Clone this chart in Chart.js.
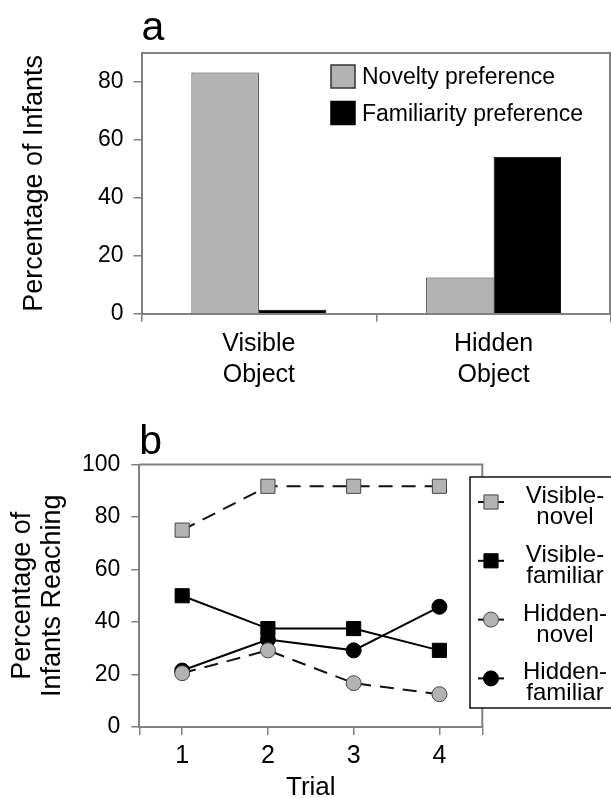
<!DOCTYPE html>
<html>
<head>
<meta charset="utf-8">
<script src="https://cdn.jsdelivr.net/npm/chart.js@4.4.1/dist/chart.umd.min.js"></script>
<style>
  html, body { margin: 0; padding: 0; background: #fff; }
  canvas { display: block; }
</style>
</head>
<body>
<canvas id="chartA" width="611" height="400"></canvas>
<canvas id="chartB" width="611" height="398"></canvas>
<script>
// panel a: share of infants showing each preference
const objectGroups = [['Visible', 'Object'], ['Hidden', 'Object']];
const noveltyPref = [83.3, 12.5];
const familiarityPref = [0, 54.2];
const prefNames = ['Novelty preference', 'Familiarity preference'];
const yTicksA = [0, 20, 40, 60, 80];

// panel b: reaching by trial
const trials = [1, 2, 3, 4];
const visibleNovel = [75, 91.7, 91.7, 91.7];
const visibleFamiliar = [50, 37.5, 37.5, 29.2];
const hiddenNovel = [20.5, 29.2, 16.7, 12.5];
const hiddenFamiliar = [21.5, 33.3, 29.2, 45.8];
const seriesNames = [['Visible-', 'novel'], ['Visible-', 'familiar'], ['Hidden-', 'novel'], ['Hidden-', 'familiar']];
const yTicksB = [0, 20, 40, 60, 80, 100];

const FONT = "'Liberation Sans', Arial, Helvetica, sans-serif";
const AXIS_GREY = '#808080';
Chart.defaults.font.family = FONT;
Chart.defaults.color = '#000';

// big "a" / "b" letter above the plot
const panelLetter = {
  id: 'panelLetter',
  afterDraw(chart, args, opts) {
    const ctx = chart.ctx, area = chart.chartArea;
    ctx.save();
    ctx.font = '41px ' + FONT;
    ctx.fillStyle = '#000';
    ctx.textBaseline = 'alphabetic';
    ctx.fillText(opts.text, area.left, area.top - opts.gap);
    ctx.restore();
  }
};

// top and right frame lines
const frame = {
  id: 'frame',
  beforeDatasetsDraw(chart, args, opts) {
    const ctx = chart.ctx, area = chart.chartArea;
    const r = Math.min(area.right, chart.width - 1);
    ctx.save();
    ctx.strokeStyle = AXIS_GREY;
    ctx.lineWidth = 2;
    ctx.beginPath();
    ctx.moveTo(area.left, area.top);
    ctx.lineTo(r, area.top);
    ctx.lineTo(r, area.bottom);
    ctx.stroke();
    ctx.restore();
  }
};

// legend with filled boxes (panel a)
const boxLegend = {
  id: 'boxLegend',
  afterDraw(chart, args, opts) {
    const ctx = chart.ctx;
    ctx.save();
    ctx.font = opts.fontSize + 'px ' + FONT;
    ctx.textBaseline = 'middle';
    chart.data.datasets.forEach((ds, i) => {
      const y = opts.top + i * opts.spacing;
      ctx.fillStyle = ds.backgroundColor;
      ctx.fillRect(opts.left, y, opts.box, opts.box - 1);
      ctx.strokeStyle = ds.borderColor;
      ctx.lineWidth = 1.5;
      ctx.strokeRect(opts.left, y, opts.box, opts.box - 1);
      ctx.fillStyle = '#000';
      ctx.fillText(ds.label, opts.left + opts.box + opts.gap, y + opts.box / 2 + 1);
    });
    ctx.restore();
  }
};

// legend with line + marker and two-line names (panel b)
const lineLegend = {
  id: 'lineLegend',
  afterDraw(chart, args, opts) {
    const ctx = chart.ctx;
    ctx.save();
    ctx.fillStyle = '#fff';
    ctx.fillRect(opts.left, opts.top, chart.width - opts.left + 5, opts.bottom - opts.top);
    ctx.strokeStyle = '#111';
    ctx.lineWidth = 1.5;
    ctx.strokeRect(opts.left, opts.top, chart.width - opts.left + 5, opts.bottom - opts.top);
    ctx.font = opts.fontSize + 'px ' + FONT;
    ctx.textAlign = 'center';
    ctx.textBaseline = 'alphabetic';
    chart.data.datasets.forEach((ds, i) => {
      const y = opts.first + i * opts.step;
      ctx.strokeStyle = ds.borderColor;
      ctx.lineWidth = ds.borderWidth;
      ctx.setLineDash([]);
      ctx.beginPath();
      ctx.moveTo(opts.lineX0, y);
      ctx.lineTo(opts.lineX1, y);
      ctx.stroke();
      ctx.fillStyle = ds.pointBackgroundColor;
      ctx.strokeStyle = ds.pointBorderColor;
      ctx.lineWidth = ds.pointBorderWidth;
      Chart.helpers.drawPoint(ctx, {
        pointStyle: ds.pointStyle, radius: ds.pointRadius, rotation: 0, borderWidth: ds.pointBorderWidth
      }, (opts.lineX0 + opts.lineX1) / 2, y);
      ctx.fillStyle = '#000';
      seriesNames[i].forEach((line, k) => {
        ctx.fillText(line, opts.textX, y + opts.baseShift + k * opts.lineGap);
      });
    });
    ctx.restore();
  }
};

new Chart(document.getElementById('chartA'), {
  type: 'bar',
  data: {
    labels: objectGroups,
    datasets: [
      { label: prefNames[0], data: noveltyPref, backgroundColor: '#b3b3b3', borderColor: '#333', borderWidth: 1 },
      { label: prefNames[1], data: familiarityPref, backgroundColor: '#000', borderColor: '#000', borderWidth: 1, minBarLength: 4 }
    ]
  },
  options: {
    responsive: false,
    animation: false,
    devicePixelRatio: 1,
    layout: { padding: { top: 53, right: 0, left: 0, bottom: 0 } },
    datasets: { bar: { categoryPercentage: 0.575, barPercentage: 1 } },
    scales: {
      x: {
        afterFit(s) { s.height = 86.3; },
        grid: { drawOnChartArea: false, tickLength: 8, color: AXIS_GREY, lineWidth: 1.5 },
        border: { color: AXIS_GREY, width: 2 },
        ticks: { font: { size: 25, lineHeight: 1.24 }, padding: 7, color: '#000' }
      },
      y: {
        min: 0, max: 90,
        afterFit(s) { s.width = 141.5; },
        grid: { drawOnChartArea: false, tickLength: 8, color: AXIS_GREY, lineWidth: 1.5 },
        border: { color: AXIS_GREY, width: 2 },
        ticks: {
          stepSize: 10, padding: 10, font: { size: 23 }, color: '#000',
          callback: v => (yTicksA.includes(v) ? v : '')
        },
        title: {
          display: true, text: 'Percentage of Infants',
          font: { size: 27, lineHeight: 1.2 }, padding: { top: 18, bottom: 0 }, color: '#000'
        }
      }
    },
    plugins: {
      legend: { display: false },
      tooltip: { enabled: false },
      panelLetter: { text: 'a', gap: 13 },
      boxLegend: { left: 331, top: 65, spacing: 36.5, box: 24, gap: 7, fontSize: 23 }
    }
  },
  plugins: [frame, panelLetter, boxLegend]
});

const pts = vals => trials.map((t, i) => ({ x: t, y: vals[i] }));

new Chart(document.getElementById('chartB'), {
  type: 'line',
  data: {
    datasets: [
      { label: seriesNames[0].join(''), data: pts(visibleNovel), borderColor: '#111', borderWidth: 2, borderDash: [14, 9],
        pointStyle: 'rect', pointRadius: 10, pointBackgroundColor: '#b3b3b3', pointBorderColor: '#444', pointBorderWidth: 1 },
      { label: seriesNames[1].join(''), data: pts(visibleFamiliar), borderColor: '#000', borderWidth: 2,
        pointStyle: 'rect', pointRadius: 10, pointBackgroundColor: '#000', pointBorderColor: '#000', pointBorderWidth: 1 },
      { label: seriesNames[2].join(''), data: pts(hiddenNovel), borderColor: '#111', borderWidth: 2, borderDash: [14, 9],
        pointStyle: 'circle', pointRadius: 7.5, pointBackgroundColor: '#b3b3b3', pointBorderColor: '#444', pointBorderWidth: 1 },
      { label: seriesNames[3].join(''), data: pts(hiddenFamiliar), borderColor: '#000', borderWidth: 2,
        pointStyle: 'circle', pointRadius: 7.5, pointBackgroundColor: '#000', pointBorderColor: '#000', pointBorderWidth: 1 }
    ]
  },
  options: {
    responsive: false,
    animation: false,
    devicePixelRatio: 1,
    layout: { padding: { top: 64.5, right: 128.7, left: 0, bottom: 0 } },
    elements: { line: { tension: 0 } },
    scales: {
      x: {
        type: 'linear', min: 0.5, max: 4.5,
        afterFit(s) { s.height = 71; },
        afterBuildTicks(s) { s.ticks = [0.5, ...trials, 4.5].map(v => ({ value: v })); },
        grid: { drawOnChartArea: false, tickLength: 8, color: AXIS_GREY, lineWidth: 1.5 },
        border: { color: AXIS_GREY, width: 2 },
        ticks: {
          font: { size: 25 }, padding: 6, color: '#000', autoSkip: false, maxRotation: 0,
          callback: v => (trials.includes(v) ? v : '')
        },
        title: { display: true, text: 'Trial', font: { size: 26, lineHeight: 0.8 }, padding: 0, color: '#000' }
      },
      y: {
        min: 0, max: 100,
        afterFit(s) { s.width = 139.3; },
        grid: { drawOnChartArea: false, tickLength: 8, color: AXIS_GREY, lineWidth: 1.5 },
        border: { color: AXIS_GREY, width: 2 },
        ticks: {
          stepSize: 20, padding: 11, font: { size: 23 }, color: '#000',
          callback: v => (yTicksB.includes(v) ? v : '')
        },
        title: {
          display: true, text: ['Percentage of', 'Infants Reaching'],
          font: { size: 27, lineHeight: 1.1 }, padding: { top: 8, bottom: 0 }, color: '#000'
        }
      }
    },
    plugins: {
      legend: { display: false },
      tooltip: { enabled: false },
      panelLetter: { text: 'b', gap: 11 },
      lineLegend: {
        left: 470, top: 77, bottom: 308, first: 102, step: 58.8,
        lineX0: 478, lineX1: 504, textX: 565, baseShift: 1, lineGap: 21, fontSize: 24
      }
    }
  },
  plugins: [frame, panelLetter, lineLegend]
});
</script>
</body>
</html>
